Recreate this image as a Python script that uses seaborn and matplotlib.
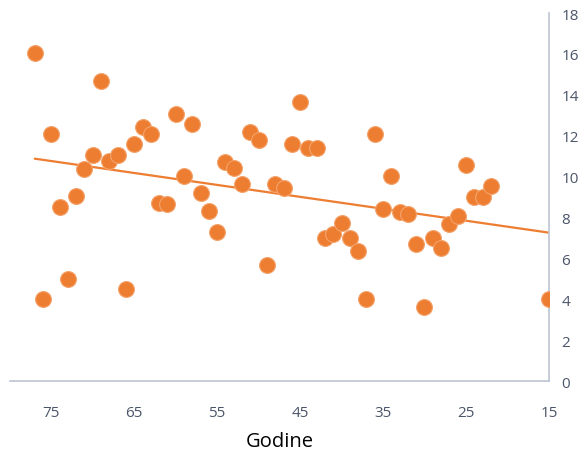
import numpy as np
import pandas as pd
import matplotlib
matplotlib.use('Agg')
import matplotlib.pyplot as plt
import seaborn as sns

# podaci ocitani sa slike
godine = [77, 76, 75, 74, 73, 72, 71, 70, 69, 68, 67, 66, 65, 64, 63, 62, 61, 60,
          59, 58, 57, 56, 55, 54, 53, 52, 51, 50, 49, 48, 47, 46, 45, 44, 43, 42,
          41, 40, 39, 38, 37, 36, 35, 34, 33, 32, 31, 30, 29, 28, 27, 26, 25, 24,
          23, 22, 15]
vrijednosti = [16.05, 4.02, 12.08, 8.54, 5.01, 9.05, 10.4, 11.04, 14.68, 10.78, 11.05, 4.51,
               11.58, 12.45, 12.07, 8.72, 8.65, 13.07, 10.05, 12.56, 9.22, 8.32, 7.28, 10.72,
               10.43, 9.64, 12.2, 11.81, 5.7, 9.63, 9.43, 11.58, 13.63, 11.4, 11.4, 7.03,
               7.2, 7.75, 7.03, 6.37, 4.03, 12.07, 8.43, 10.05, 8.3, 8.16, 6.69, 3.63,
               7.03, 6.53, 7.69, 8.06, 10.55, 9.0, 9.0, 9.55, 4.03]
x_ticks = [75, 65, 55, 45, 35, 25, 15]
y_ticks = list(range(0, 19, 2))

df = pd.DataFrame({'Godine': godine, 'Vrijednost': vrijednosti})

sns.set_style('white')
plt.rcParams['font.family'] = ['Open Sans', 'DejaVu Sans']

orange = '#ED7D31'
tick_color = '#4A5568'
axis_color = '#BCC5D3'

fig = plt.figure(figsize=(5.79, 4.52), dpi=100)
ax = fig.add_axes([0.017, 0.154, 0.931, 0.815])

sns.regplot(x='Godine', y='Vrijednost', data=df, ax=ax, ci=None, truncate=True,
            scatter_kws={'s': 130, 'color': orange, 'edgecolor': '#F4A36B',
                         'linewidths': 0.8, 'alpha': 1, 'zorder': 3},
            line_kws={'color': orange, 'linewidth': 1.6, 'zorder': 2})

ax.set_xlim(80, 15)
ax.set_ylim(0, 18)
ax.set_xticks(x_ticks)
ax.set_yticks(y_ticks)
ax.yaxis.tick_right()

for side in ['top', 'left']:
    ax.spines[side].set_visible(False)
for side in ['bottom', 'right']:
    ax.spines[side].set_color(axis_color)
    ax.spines[side].set_linewidth(1.2)

ax.tick_params(axis='both', which='both', length=0, width=0, labelsize=11, colors=tick_color)
ax.tick_params(axis='x', pad=17)
ax.tick_params(axis='y', pad=9)

ax.set_xlabel('Godine', fontsize=14.5, color='black', labelpad=8)
ax.set_ylabel('')
ax.grid(False)

plt.savefig('out.png', dpi=100)
